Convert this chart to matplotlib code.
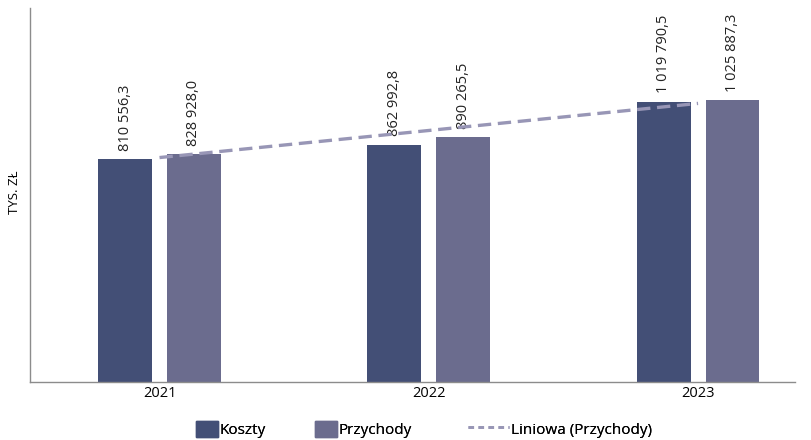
"""Koszty vs Przychody 2021-2023 with linear trend of Przychody."""
import numpy as np
import matplotlib
matplotlib.use("Agg")
import matplotlib.pyplot as plt
from matplotlib.patches import Patch
from matplotlib.lines import Line2D

years = ["2021", "2022", "2023"]
koszty = [810556.3, 862992.8, 1019790.5]
przychody = [828928.0, 890265.5, 1025887.3]

C_KOSZTY = "#434f76"
C_PRZYCH = "#6b6c8e"
C_TREND = "#9896b6"


def fmt(v):
    s = f"{v:,.1f}"
    return s.replace(",", " ").replace(".", ",")


def main():
    plt.rcParams["font.family"] = ["Open Sans", "DejaVu Sans"]
    fig = plt.figure(figsize=(8.11, 4.40), dpi=100)
    ax = fig.add_axes([30 / 811, 58 / 440, 765 / 811, 374 / 440])

    x = np.arange(len(years))
    w = 0.2
    off = 0.128
    b1 = ax.bar(x - off, koszty, w, color=C_KOSZTY, zorder=2)
    b2 = ax.bar(x + off, przychody, w, color=C_PRZYCH, zorder=2)

    for bars, vals in ((b1, koszty), (b2, przychody)):
        for r, v in zip(bars, vals):
            ax.annotate(fmt(v), (r.get_x() + r.get_width() / 2, v),
                        xytext=(0, 6), textcoords="offset points",
                        rotation=90, ha="center", va="bottom",
                        fontsize=10.5, color="#222222")

    # linear trend (Excel "Liniowa") on Przychody
    k, b = np.polyfit(x, przychody, 1)
    ax.plot(x, k * x + b, ls=(0, (4, 2)), lw=2.4, color=C_TREND, zorder=3)

    ax.set_xlim(-0.481, 2.36)
    ax.set_ylim(0, 1360600)
    ax.set_xticks(x)
    ax.set_xticklabels(years, fontsize=10.5)
    ax.set_yticks([])
    ax.tick_params(axis="x", length=0, pad=3)
    for s in ("top", "right"):
        ax.spines[s].set_visible(False)
    for s in ("left", "bottom"):
        ax.spines[s].set_color("#8c8c8c")
        ax.spines[s].set_linewidth(1.0)
    fig.text(15 / 811, 1 - 192 / 440, "TYS. ZŁ", rotation=90,
             ha="center", va="center", fontsize=9.5)

    items = [
        (Patch(color=C_KOSZTY), "Koszty", 196, 1.45),
        (Patch(color=C_PRZYCH), "Przychody", 315, 1.45),
        (Line2D([], [], ls=(0, (2, 1.6)), lw=2, color=C_TREND),
         "Liniowa (Przychody)", 468, 2.7),
    ]
    for h, lab, px, hl in items:
        leg = fig.legend([h], [lab], loc="lower left",
                         bbox_to_anchor=(px / 811, 2 / 440),
                         frameon=False, fontsize=11, handlelength=hl,
                         handleheight=1.3, handletextpad=0.1,
                         borderpad=0, borderaxespad=0)
        fig.add_artist(leg)

    fig.savefig("out.png", dpi=100)


if __name__ == "__main__":
    main()
